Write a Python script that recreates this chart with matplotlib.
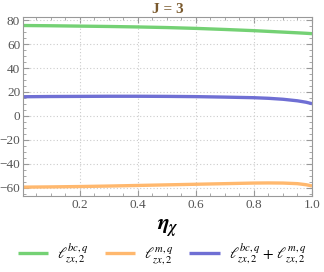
import numpy as np
import matplotlib
matplotlib.use("Agg")
import matplotlib.pyplot as plt
from matplotlib.ticker import MultipleLocator

plt.rcParams['font.family'] = ['Liberation Serif', 'DejaVu Serif']
plt.rcParams['mathtext.fontset'] = 'stix'
plt.rcParams['axes.unicode_minus'] = True

eta = [0.005, 0.1, 0.2, 0.3, 0.4, 0.5, 0.6, 0.7, 0.8, 0.85, 0.9, 0.95, 0.98, 1.0]
l_bc = [75.5, 75.3, 75.0, 74.7, 74.3, 73.8, 73.1, 72.2, 71.2, 70.6, 70.0, 69.4, 69.0, 68.7]
l_m = [-59.5, -59.3, -59.0, -58.6, -58.1, -57.6, -57.1, -56.6, -56.1, -56.0, -56.1, -56.6, -57.5, -58.5]
l_sum = [16.0, 16.2, 16.3, 16.4, 16.4, 16.3, 16.1, 15.7, 15.2, 14.7, 13.9, 12.6, 11.4, 10.2]
labels = [r'$\ell^{bc,q}_{zx,2}$', r'$\ell^{m,q}_{zx,2}$',
          r'$\ell^{bc,q}_{zx,2}+\,\ell^{m,q}_{zx,2}$']
colors = ['#74d174', '#ffb86e', '#6f6fd4']

fig = plt.figure(figsize=(3.24, 2.72), dpi=100)
ax = fig.add_axes([0.071, 0.279, 0.892, 0.658])
for y, lab, c in zip([l_bc, l_m, l_sum], labels, colors):
    ax.plot(eta, y, color=c, lw=2.4, label=lab, solid_capstyle='butt')

ax.set_xlim(0.005, 1.0)
ax.set_ylim(-67, 82.5)
ax.set_xticks([0.2, 0.4, 0.6, 0.8, 1.0])
ax.set_xticklabels(['0.2', '0.4', '0.6', '0.8', '1.0'])
ax.set_yticks([-60, -40, -20, 0, 20, 40, 60, 80])
ax.xaxis.set_minor_locator(MultipleLocator(0.05))
ax.yaxis.set_minor_locator(MultipleLocator(5))
ax.grid(True, which='major', color='#cccccc', linestyle=(0, (1, 2)), lw=0.8)
ax.tick_params(which='both', direction='in', top=True, right=True, colors='#999999',
               labelcolor='#555555', labelsize=9.5, pad=2)
ax.tick_params(which='major', length=4)
ax.tick_params(which='minor', length=2)
for s in ax.spines.values():
    s.set_color('#999999')

ax.set_title('J = 3', color='#7a5a2e', fontsize=11, fontweight='bold', pad=3)
ax.set_xlabel(r'$\boldsymbol{\eta}_{\boldsymbol{\chi}}$', fontsize=16, labelpad=5)

fig.legend(loc='lower center', ncol=3, frameon=False, fontsize=11, bbox_to_anchor=(0.5, -0.03),
           handlelength=2.0, columnspacing=1.0, handletextpad=0.6)
fig.savefig('out.png', dpi=100)
